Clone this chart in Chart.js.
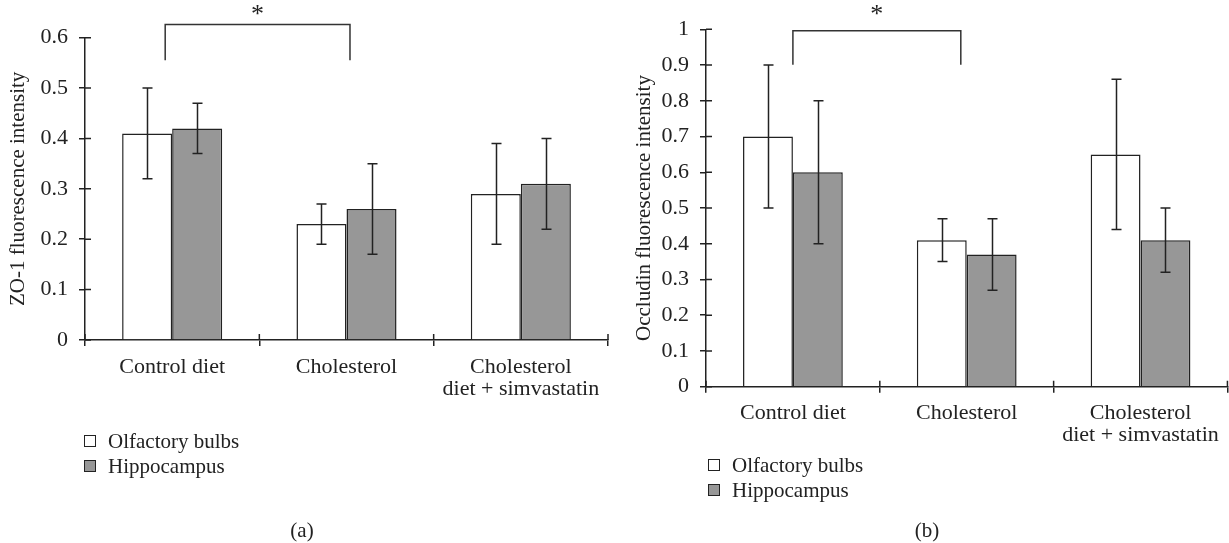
<!DOCTYPE html>
<html><head><meta charset="utf-8">
<script src="https://cdn.jsdelivr.net/npm/chart.js@4.4.1/dist/chart.umd.min.js"></script>
<style>
html,body{margin:0;padding:0;background:#fff;}
#wrap{position:relative;width:1229px;height:543px;overflow:hidden;font-family:"Liberation Serif","Times New Roman",serif;color:#222;}
canvas{position:absolute;top:0;}
.leg{position:absolute;font-size:21px;line-height:24px;white-space:nowrap;transform:translateY(-50%);}
.sw{position:absolute;width:10px;height:10px;border:1.3px solid #222;transform:translateY(-50%);}
.cap{position:absolute;font-size:21px;line-height:24px;transform:translate(-50%,-50%);}
</style></head>
<body><div id="wrap">
<canvas id="ca" width="615" height="543" style="left:0"></canvas>
<canvas id="cb" width="608" height="543" style="left:621px"></canvas>
</div>
<script>
// ---- data ----
const categories = ['Control diet', 'Cholesterol', ['Cholesterol', 'diet + simvastatin']];
const seriesNames = ['Olfactory bulbs', 'Hippocampus'];

// (a) ZO-1
const zo1Olfactory = [0.41, 0.23, 0.29];
const zo1OlfactoryErr = [[0.32, 0.50], [0.19, 0.27], [0.19, 0.39]];
const zo1Hippocampus = [0.42, 0.26, 0.31];
const zo1HippocampusErr = [[0.37, 0.47], [0.17, 0.35], [0.22, 0.40]];
const zo1Max = 0.6;

// (b) Occludin
const occOlfactory = [0.70, 0.41, 0.65];
const occOlfactoryErr = [[0.50, 0.90], [0.35, 0.47], [0.44, 0.86]];
const occHippocampus = [0.60, 0.37, 0.41];
const occHippocampusErr = [[0.40, 0.80], [0.27, 0.47], [0.32, 0.50]];
const occMax = 1.0;

// significance annotations (category index span, value levels)
const sigA = {from: -0.04, to: 1.02, top: 0.626, foot: 0.555, label: '*'};
const sigB = {from: 0.0, to: 0.966, top: 0.996, foot: 0.901, label: '*'};

// ---- styles ----
const FONT = '"Liberation Serif", "Times New Roman", serif';
const INK = '#222';
const WHITE = '#ffffff';
const GRAY = '#979797';

const annotPlugin = {
  id: 'annot',
  afterDatasetsDraw(chart, args, opts) {
    const ctx = chart.ctx, xs = chart.scales.x, ys = chart.scales.y;
    ctx.save();
    ctx.strokeStyle = INK; ctx.lineWidth = 1.5; ctx.lineCap = 'butt';
    // error bars
    chart.data.datasets.forEach((ds, di) => {
      const meta = chart.getDatasetMeta(di);
      meta.data.forEach((bar, i) => {
        const [lo, hi] = ds.errors[i];
        const x = Math.round(bar.x) + 0.5;
        const yl = ys.getPixelForValue(lo), yh = ys.getPixelForValue(hi);
        ctx.beginPath();
        ctx.moveTo(x, yl); ctx.lineTo(x, yh);
        ctx.moveTo(x - 5, yl); ctx.lineTo(x + 5, yl);
        ctx.moveTo(x - 5, yh); ctx.lineTo(x + 5, yh);
        ctx.stroke();
      });
    });
    // inner tick marks (ticks cross the axes)
    const a = chart.chartArea;
    ctx.beginPath();
    ys.ticks.forEach(t => {
      const y = ys.getPixelForValue(t.value);
      ctx.moveTo(a.left, y); ctx.lineTo(a.left + 6, y);
    });
    for (let i = 0; i <= chart.data.labels.length; i++) {
      const x = xs.getPixelForValue(i - 0.5);
      ctx.moveTo(x, a.bottom); ctx.lineTo(x, a.bottom - 6);
    }
    ctx.stroke();
    // significance bracket
    const s = opts.sig;
    if (s) {
      const x1 = xs.getPixelForValue(s.from), x2 = xs.getPixelForValue(s.to);
      const yt = ys.getPixelForValue(s.top), yf = ys.getPixelForValue(s.foot);
      ctx.strokeStyle = '#333';
      ctx.beginPath();
      ctx.moveTo(x1, yf); ctx.lineTo(x1, yt); ctx.lineTo(x2, yt); ctx.lineTo(x2, yf);
      ctx.stroke();
      ctx.fillStyle = INK;
      ctx.font = '26px ' + FONT;
      ctx.textAlign = 'center'; ctx.textBaseline = 'alphabetic';
      ctx.fillText(s.label, (x1 + x2) / 2, yt + opts.starDy);
    }
    ctx.restore();
  }
};

function makeChart(id, olf, olfErr, hip, hipErr, max, title, pad, titlePad, sig, starDy) {
  return new Chart(document.getElementById(id), {
    type: 'bar',
    data: {
      labels: categories,
      datasets: [
        {label: seriesNames[0], data: olf, errors: olfErr, backgroundColor: WHITE, borderColor: INK, borderWidth: 1.5},
        {label: seriesNames[1], data: hip, errors: hipErr, backgroundColor: GRAY, borderColor: INK, borderWidth: 1.5}
      ]
    },
    options: {
      responsive: false,
      animation: false,
      events: [],
      layout: {padding: pad},
      datasets: {bar: {categoryPercentage: 0.574, barPercentage: 1.0}},
      plugins: {legend: {display: false}, tooltip: {enabled: false}, annot: {sig: sig, starDy: starDy}},
      scales: {
        x: {
          afterFit: sc => { sc.height = 60; },
          grid: {drawOnChartArea: false, drawTicks: true, tickLength: 6, color: INK, lineWidth: 1.5, offset: true},
          border: {display: true, color: INK, width: 1.5},
          ticks: {color: INK, padding: 10, maxRotation: 0, autoSkip: false, font: {family: FONT, size: 22, lineHeight: 1.0}}
        },
        y: {
          min: 0, max: max,
          afterFit: sc => { sc.width = 85; },
          grid: {drawOnChartArea: false, drawTicks: true, tickLength: 6, color: INK, lineWidth: 1.5},
          border: {display: true, color: INK, width: 1.5},
          ticks: {stepSize: 0.1, color: INK, padding: 11, font: {family: FONT, size: 22},
                  callback: v => String(Number(v.toFixed(1)))},
          title: {display: true, text: title, color: INK, padding: {top: titlePad, bottom: 0}, font: {family: FONT, size: 21}}
        }
      }
    },
    plugins: [annotPlugin]
  });
}

makeChart('ca', zo1Olfactory, zo1OlfactoryErr, zo1Hippocampus, zo1HippocampusErr, zo1Max,
  'ZO-1 fluorescence intensity', {top: 37.7, right: 7, bottom: 143, left: 0}, 6, sigA, -3);
makeChart('cb', occOlfactory, occOlfactoryErr, occHippocampus, occHippocampusErr, occMax,
  'Occludin fluorescence intensity', {top: 29.3, right: 1, bottom: 96.3, left: 0}, 11, sigB, -8.5);

// legends & captions (HTML text)
const wrap = document.getElementById('wrap');
const fills = [WHITE, GRAY];
function legend(swX, txtX, y0, dy) {
  seriesNames.forEach((n, i) => {
    const sw = document.createElement('div');
    sw.className = 'sw'; sw.style.left = swX + 'px'; sw.style.top = (y0 + i * dy) + 'px';
    sw.style.background = fills[i];
    wrap.appendChild(sw);
    const t = document.createElement('div');
    t.className = 'leg'; t.textContent = n; t.style.left = txtX + 'px'; t.style.top = (y0 + i * dy) + 'px';
    wrap.appendChild(t);
  });
}
legend(84, 108, 441, 25);
legend(708, 732, 465, 25);
function caption(txt, x, y) {
  const c = document.createElement('div');
  c.className = 'cap'; c.textContent = txt; c.style.left = x + 'px'; c.style.top = y + 'px';
  wrap.appendChild(c);
}
caption('(a)', 302, 530);
caption('(b)', 927, 530);
</script>
</body></html>
